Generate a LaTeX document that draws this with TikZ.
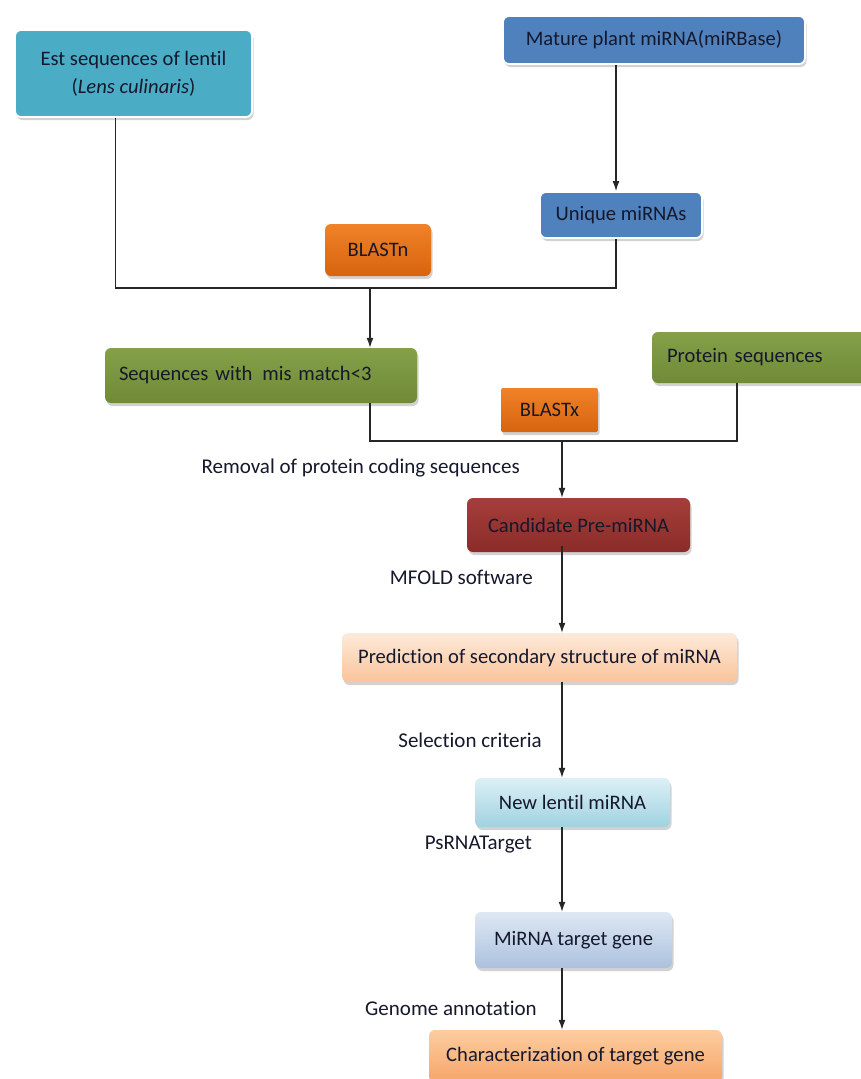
\documentclass[tikz,border=0pt]{standalone}
\usepackage{fontspec}
\setmainfont[Ligatures=NoCommon]{Carlito}
\usepackage{tikz}
\usetikzlibrary{arrows.meta, positioning, shadows, calc}
\definecolor{boxAqua}{RGB}{75,172,198}
\definecolor{boxBlue}{RGB}{79,129,189}
\definecolor{txtInk}{RGB}{22,24,44}

\tikzset{
  box/.style={rounded corners=6pt, inner sep=0pt, align=center, text=txtInk,
              font=\fontsize{20.6}{28}\selectfont,
              drop shadow={opacity=0.35, shadow xshift=1.5pt, shadow yshift=-3pt}},
  rimbox/.style={box, draw=white, line width=1.8pt},
  lbl/.style={anchor=east, text=txtInk, inner sep=0pt, font=\fontsize{21}{24}\selectfont},
  line/.style={draw=black!85, line width=1.3pt},
  arr/.style={line, -{Latex[length=10pt,width=7pt]}}
}

\begin{document}
\begin{tikzpicture}[x=1pt,y=-1pt]
  \path[fill=white,use as bounding box] (0,0) rectangle (861,1079);

  % top inputs
  \node[rimbox, fill=boxAqua, minimum width=237, minimum height=87] (est) at (133.5,73.5)
    {Est sequences of lentil\\(\textit{Lens culinaris})};
  \node[rimbox, fill=boxBlue, minimum width=302, minimum height=48] (mature) at (654,40)
    {Mature plant miRNA(miRBase)};
  \node[rimbox, fill=boxBlue, minimum width=162, minimum height=46] (unique) at (621,215)
    {Unique miRNAs};
  \node[box, top color={rgb,255:red,240;green,130;blue,40}, bottom color={rgb,255:red,215;green,100;blue,15},
        minimum width=106, minimum height=52] (blastn) at (378,250) {BLASTn};

  % sequence filtering
  \node[box, top color={rgb,255:red,132;green,160;blue,72}, bottom color={rgb,255:red,112;green,138;blue,55},
        minimum width=312, minimum height=55, text width=284, align=left] (seqs) at (261,375.5)
    {Sequences with\hspace{3pt} mis match<3};
  \node[box, top color={rgb,255:red,132;green,160;blue,72}, bottom color={rgb,255:red,112;green,138;blue,55},
        minimum width=218, minimum height=51, text width=188, align=left] (protein) at (761,357.5)
    {Protein sequences};
  \node[box, rounded corners=2pt, top color={rgb,255:red,240;green,130;blue,40}, bottom color={rgb,255:red,215;green,100;blue,15},
        minimum width=97, minimum height=44] (blastx) at (549.5,410) {BLASTx};

  % downstream steps
  \node[box, top color={rgb,255:red,165;green,62;blue,58}, bottom color={rgb,255:red,138;green,44;blue,40},
        minimum width=223, minimum height=54] (cand) at (578.5,525) {Candidate Pre-miRNA};
  \node[box, top color={rgb,255:red,253;green,234;blue,218}, bottom color={rgb,255:red,250;green,196;blue,155},
        minimum width=395, minimum height=49] (pred) at (539.5,657.5)
    {Prediction of secondary structure of miRNA};
  \node[box, top color={rgb,255:red,220;green,240;blue,245}, bottom color={rgb,255:red,160;green,210;blue,225},
        minimum width=195, minimum height=49] (newl) at (572.5,802.5) {New lentil miRNA};
  \node[box, top color={rgb,255:red,222;green,232;blue,244}, bottom color={rgb,255:red,172;green,193;blue,222},
        minimum width=197, minimum height=56] (target) at (573.5,940) {MiRNA target gene};
  \node[box, top color={rgb,255:red,252;green,205;blue,160}, bottom color={rgb,255:red,246;green,165;blue,105},
        minimum width=293, minimum height=52] (charact) at (575.5,1056) {Characterization of target gene};

  % step labels
  \node[lbl] (lremoval) at (520,468) {Removal of protein coding sequences};
  \node[lbl] (lmfold) at (533,577) {MFOLD software};
  \node[lbl] (lselect) at (542,740) {Selection criteria};
  \node[lbl] (lpsrna) at (532,845) {PsRNATarget};
  \node[lbl] (lgenome) at (537,1008) {Genome annotation};

  % joins
  \coordinate (j1) at (370,288);
  \coordinate (j2) at (562,441);

  \draw[arr] ([xshift=-38pt]mature.south) -- ([xshift=-5pt]unique.north);
  \draw[line] ([xshift=-18pt]est.south) |- (j1) -| ([xshift=-5pt]unique.south);
  \draw[arr] (j1) -- (j1 |- seqs.north);
  \draw[line] (seqs.south -| j1) |- (j2) -| ([xshift=-24pt]protein.south);
  \draw[arr] (j2) -- (j2 |- cand.north);
  \draw[arr] ([yshift=6pt]cand.south -| j2) -- (pred.north -| j2);
  \draw[arr] (pred.south -| j2) -- (newl.north -| j2);
  \draw[arr] (newl.south -| j2) -- (target.north -| j2);
  \draw[arr] (target.south -| j2) -- (charact.north -| j2);
\end{tikzpicture}
\end{document}
